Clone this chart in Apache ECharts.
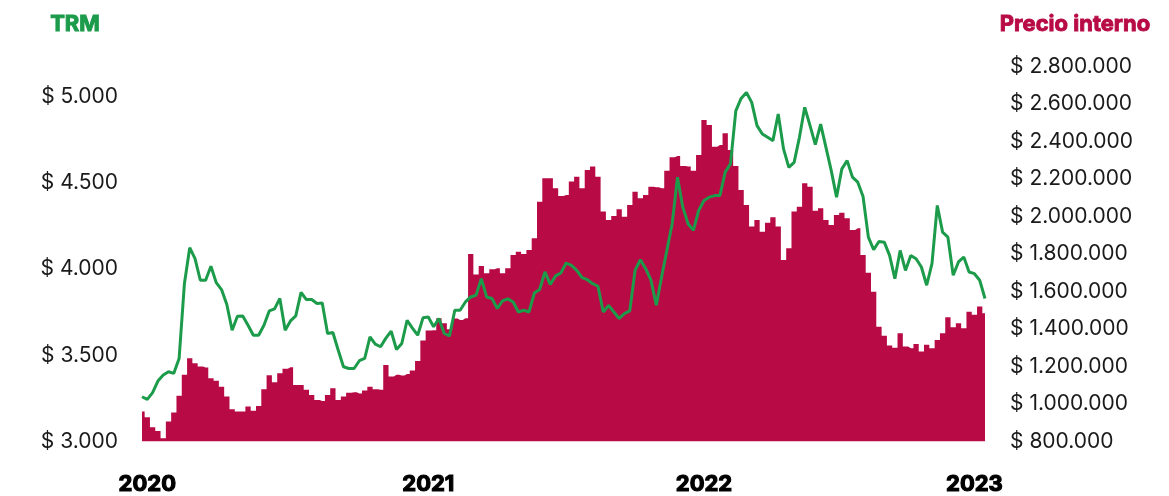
<!DOCTYPE html>
<html>
<head>
<meta charset="utf-8">
<title>TRM y precio interno</title>
<script src="https://cdn.jsdelivr.net/npm/echarts@6/dist/echarts.min.js"></script>
<style>
  html, body { margin: 0; padding: 0; background: #fff; }
  #chart { width: 1169px; height: 496px; }
</style>
</head>
<body>
<div id="chart"></div>
<script>
// weekly samples, first week 2019-12-25
const startDate = "2019-12-25";
const yearTicks = { 1: "2020", 54: "2021", 106: "2022", 157: "2023" };

// TRM (COP por USD)
const trm = [
  3259, 3244, 3283, 3350, 3385, 3404, 3395, 3481, 3915, 4124,
  4060, 3935, 3935, 4016, 3921, 3881, 3794, 3645, 3726, 3728,
  3674, 3616, 3616, 3674, 3757, 3769, 3829, 3645, 3699, 3728,
  3865, 3823, 3823, 3800, 3803, 3626, 3632, 3530, 3433, 3423,
  3423, 3468, 3481, 3607, 3564, 3549, 3599, 3639, 3533, 3568,
  3703, 3657, 3616, 3717, 3722, 3665, 3713, 3626, 3612, 3761,
  3761, 3809, 3838, 3848, 3944, 3838, 3829, 3771, 3815, 3827,
  3809, 3751, 3761, 3751, 3861, 3881, 3983, 3911, 3960, 3977,
  4035, 4021, 3992, 3950, 3938, 3915, 3900, 3751, 3788, 3751,
  3713, 3742, 3757, 3992, 4054, 4002, 3935, 3790, 3954, 4108,
  4263, 4533, 4359, 4263, 4224, 4340, 4398, 4417, 4426, 4426,
  4562, 4610, 4918, 4990, 5024, 4967, 4832, 4783, 4764, 4745,
  4899, 4697, 4590, 4619, 4764, 4938, 4832, 4722, 4841, 4706,
  4571, 4417, 4581, 4629, 4533, 4504, 4421, 4185, 4112, 4160,
  4156, 4079, 3944, 4108, 3992, 4079, 4060, 4012, 3906, 4031,
  4369, 4214, 4185, 3964, 4041, 4070, 3983, 3973, 3935, 3829
];

// Precio interno (COP por carga)
const precio = [
  959000, 929000, 876000, 856000, 817000, 906000, 954000, 1043000, 1155000, 1244000,
  1217000, 1199000, 1194000, 1137000, 1124000, 1092000, 1039000, 972000, 959000, 959000,
  986000, 964000, 989000, 1078000, 1153000, 1116000, 1164000, 1188000, 1196000, 1101000,
  1101000, 1075000, 1048000, 1021000, 1016000, 1048000, 1084000, 1021000, 1039000, 1060000,
  1062000, 1055000, 1071000, 1092000, 1078000, 1075000, 1208000, 1146000, 1156000, 1151000,
  1160000, 1178000, 1229000, 1338000, 1391000, 1393000, 1457000, 1430000, 1398000, 1455000,
  1448000, 1457000, 1800000, 1690000, 1736000, 1697000, 1718000, 1724000, 1697000, 1724000,
  1795000, 1812000, 1800000, 1821000, 1884000, 2079000, 2204000, 2204000, 2150000, 2109000,
  2115000, 2186000, 2212000, 2150000, 2248000, 2266000, 2212000, 2026000, 1981000, 2003000,
  2038000, 1999000, 2061000, 2132000, 2097000, 2115000, 2159000, 2156000, 2150000, 2244000,
  2316000, 2323000, 2269000, 2266000, 2244000, 2328000, 2515000, 2488000, 2372000, 2381000,
  2444000, 2355000, 2269000, 2141000, 2061000, 1946000, 1981000, 1919000, 1967000, 1996000,
  1946000, 1768000, 1830000, 2026000, 2052000, 2177000, 2159000, 2031000, 2044000, 1981000,
  1955000, 2008000, 2020000, 1990000, 1928000, 1937000, 1795000, 1700000, 1599000, 1412000,
  1363000, 1311000, 1300000, 1377000, 1306000, 1297000, 1320000, 1279000, 1315000, 1297000,
  1341000, 1377000, 1462000, 1409000, 1430000, 1404000, 1492000, 1475000, 1519000, 1484000
];

const weeks = [];
const d0 = new Date(startDate + "T00:00:00Z");
for (let i = 0; i < trm.length; i++) {
  const d = new Date(d0.getTime() + i * 7 * 86400000);
  weeks.push(d.toISOString().slice(0, 10));
}

const fmt = (v) => "$ " + String(v).replace(/\B(?=(\d{3})+(?!\d))/g, ".");

const GREEN = "#1c9b4b";
const CRIMSON = "#b80b45";
const FONT = "Inter, 'Noto Sans', sans-serif";

const chart = echarts.init(document.getElementById("chart"));
chart.setOption({
  animation: false,
  grid: { left: 142, right: 184, top: 66.5, bottom: 54, containLabel: false },
  xAxis: {
    type: "category",
    data: weeks,
    boundaryGap: false,
    axisLine: { show: false },
    axisTick: { show: false },
    axisLabel: {
      interval: (idx) => yearTicks[idx] !== undefined,
      formatter: (val, idx) => yearTicks[idx] || "",
      margin: 32,
      color: "#000",
      fontFamily: FONT,
      fontWeight: "bold",
      fontSize: 22,
      textBorderColor: "#000",
      textBorderWidth: 1.2
    }
  },
  yAxis: [
    {
      type: "value",
      position: "left",
      min: 3000,
      max: 5175,
      interval: 500,
      name: "TRM",
      nameLocation: "end",
      nameGap: 31,
      nameTextStyle: {
        color: GREEN,
        fontFamily: FONT,
        fontWeight: "bold",
        fontSize: 22,
        textBorderColor: GREEN,
        textBorderWidth: 1,
        padding: [0, 134, 0, 0]
      },
      splitLine: { show: false },
      axisLine: { show: false },
      axisTick: { show: false },
      axisLabel: {
        margin: 24,
        color: "#1a1a1a",
        fontFamily: FONT,
        fontSize: 21,
        formatter: (v) => (v % 500 === 0 ? fmt(v) : "")
      }
    },
    {
      type: "value",
      position: "right",
      min: 800000,
      max: 2800000,
      interval: 200000,
      name: "Precio interno",
      nameLocation: "end",
      nameGap: 31,
      nameTextStyle: {
        color: CRIMSON,
        fontFamily: FONT,
        fontWeight: "bold",
        fontSize: 22,
        textBorderColor: CRIMSON,
        textBorderWidth: 0.9,
        padding: [0, 0, 0, 180]
      },
      splitLine: { show: false },
      axisLine: { show: false },
      axisTick: { show: false },
      axisLabel: {
        margin: 25,
        color: "#1a1a1a",
        fontFamily: FONT,
        fontSize: 21,
        formatter: (v) => fmt(v)
      }
    }
  ],
  series: [
    {
      name: "Precio interno",
      type: "line",
      yAxisIndex: 1,
      data: precio,
      step: "middle",
      symbol: "none",
      lineStyle: { width: 0 },
      areaStyle: { color: CRIMSON, opacity: 1 },
      z: 1
    },
    {
      name: "TRM",
      type: "line",
      yAxisIndex: 0,
      data: trm,
      symbol: "none",
      lineStyle: { color: GREEN, width: 3 },
      z: 2
    }
  ]
});
</script>
</body>
</html>
